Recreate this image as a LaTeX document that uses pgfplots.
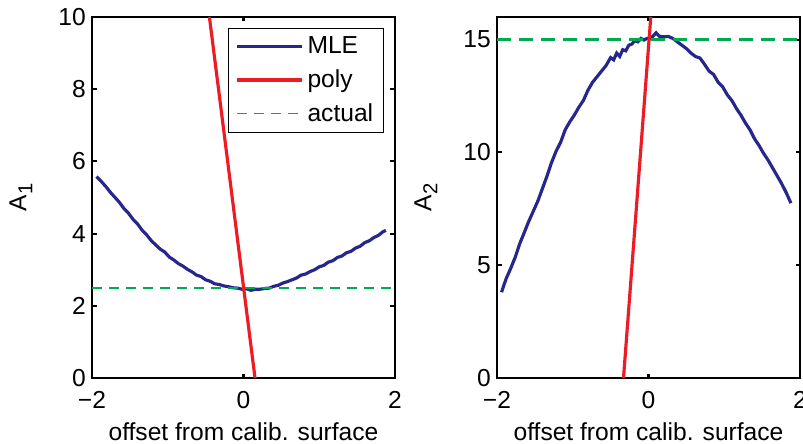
\documentclass[border=0pt]{standalone}
\usepackage{fontspec}
\setmainfont{Liberation Sans}
\usepackage{pgfplots}
\pgfplotsset{compat=1.18}

\definecolor{mleblue}{RGB}{38,38,140}
\definecolor{polyred}{RGB}{237,28,36}
\definecolor{actgreen}{RGB}{0,170,80}

\newcommand{\Asub}[1]{A\raisebox{-0.45ex}{\fontsize{11.5}{12}\selectfont #1}}

\pgfplotsset{
  panel/.style={
    scale only axis, width=6.06cm, height=7.22cm,
    anchor=south west,
    xmin=-2, xmax=2, xtick={-2,0,2}, xticklabels={−2,0,2},
    axis line style={line width=1.6pt, black},
    tick align=inside, major tick length=0.09cm,
    every tick/.style={black, line width=1.2pt},
    tick label style={font=\fontsize{14}{16}\selectfont},
    label style={font=\fontsize{14}{16}\selectfont},
    xticklabel style={yshift=-4pt},
    /pgf/number format/assume math mode=true,
    xlabel={offset from calib. surface},
    xlabel style={yshift=-1pt},
    ylabel style={yshift=8pt},
    clip=true,
  },
}

\begin{document}
\begin{tikzpicture}
% left panel
\begin{axis}[panel, at={(1.84cm,1.3cm)},
  ymin=0, ymax=10, ytick={0,2,4,6,8,10},
  ylabel={\Asub{1}},
  legend style={at={(0.964,0.97)}, anchor=north east, draw=black,
    font=\fontsize{14}{16}\selectfont, row sep=3.5pt, inner xsep=4pt, inner ysep=3pt},
  legend cell align=left,
  legend image code/.code={\draw[#1] (0cm,0cm) -- (1.3cm,0cm);},
]
\addplot[mleblue, line width=1.8pt] coordinates {
(-1.94,5.58)(-1.88,5.45)(-1.82,5.31)(-1.76,5.15)(-1.70,5.01)(-1.64,4.87)(-1.58,4.70)
(-1.52,4.57)(-1.46,4.40)(-1.40,4.27)(-1.34,4.10)(-1.28,3.97)(-1.22,3.81)(-1.16,3.69)
(-1.10,3.57)(-1.04,3.49)(-0.98,3.35)(-0.92,3.27)(-0.86,3.17)(-0.80,3.10)(-0.74,3.01)
(-0.68,2.94)(-0.62,2.85)(-0.56,2.81)(-0.50,2.72)(-0.44,2.68)(-0.38,2.61)(-0.32,2.59)
(-0.26,2.55)(-0.20,2.53)(-0.14,2.50)(-0.08,2.49)(-0.02,2.46)(0.04,2.47)(0.10,2.43)
(0.16,2.46)(0.22,2.46)(0.28,2.48)(0.34,2.49)(0.40,2.54)(0.46,2.57)(0.52,2.63)
(0.58,2.67)(0.64,2.72)(0.70,2.77)(0.76,2.85)(0.82,2.88)(0.88,2.95)(0.94,3.00)
(1.00,3.08)(1.06,3.12)(1.12,3.21)(1.18,3.25)(1.24,3.34)(1.30,3.38)(1.36,3.47)
(1.42,3.51)(1.48,3.60)(1.54,3.65)(1.60,3.75)(1.66,3.80)(1.72,3.89)(1.78,3.95)
(1.84,4.05)(1.88,4.09)};
\addlegendentry{MLE}
\addplot[polyred, line width=1.8pt] coordinates {(-0.45,10)(0.152,0)};
\addlegendentry{poly}
\addplot[actgreen, line width=1pt, dash pattern=on 0.2cm off 0.14cm] coordinates {(-2,2.5)(2,2.5)};
\addlegendentry{actual}
\end{axis}
% right panel
\begin{axis}[panel, at={(9.94cm,1.3cm)},
  ymin=0, ymax=16, ytick={0,5,10,15},
  ylabel={\Asub{2}},
]
\addplot[mleblue, line width=1.8pt] coordinates {
(-1.94,3.80)(-1.88,4.40)(-1.82,4.85)(-1.76,5.35)(-1.70,5.95)(-1.64,6.45)(-1.58,6.95)
(-1.52,7.40)(-1.46,7.85)(-1.40,8.40)(-1.34,8.95)(-1.28,9.55)(-1.22,10.05)(-1.16,10.45)
(-1.10,11.00)(-1.04,11.35)(-0.98,11.65)(-0.92,12.00)(-0.86,12.30)(-0.80,12.75)
(-0.74,13.10)(-0.68,13.35)(-0.62,13.60)(-0.56,13.85)(-0.50,14.20)(-0.46,14.10)
(-0.42,14.40)(-0.38,14.25)(-0.34,14.55)(-0.30,14.50)(-0.26,14.75)(-0.22,14.80)
(-0.18,14.95)(-0.14,14.90)(-0.10,15.05)(-0.06,14.98)(-0.02,15.05)(0.02,15.05)
(0.06,15.15)(0.10,15.30)(0.14,15.15)(0.20,15.12)(0.26,15.14)(0.32,15.05)(0.38,14.90)
(0.44,14.75)(0.50,14.60)(0.56,14.40)(0.62,14.25)(0.68,14.18)(0.74,13.90)(0.80,13.60)
(0.86,13.45)(0.92,13.10)(0.98,12.90)(1.04,12.55)(1.10,12.30)(1.16,11.95)(1.22,11.65)
(1.28,11.30)(1.34,11.00)(1.40,10.60)(1.46,10.30)(1.52,9.95)(1.58,9.65)(1.64,9.30)
(1.70,8.95)(1.76,8.60)(1.82,8.20)(1.88,7.75)};
\addplot[polyred, line width=1.8pt] coordinates {(-0.33,0)(0.03,16)};
\addplot[actgreen, line width=1.8pt, dash pattern=on 0.27cm off 0.17cm] coordinates {(-2,15)(2,15)};
\end{axis}
\pgfresetboundingbox
\path (0,0) rectangle (16.06cm,8.86cm);
\end{tikzpicture}
\end{document}
